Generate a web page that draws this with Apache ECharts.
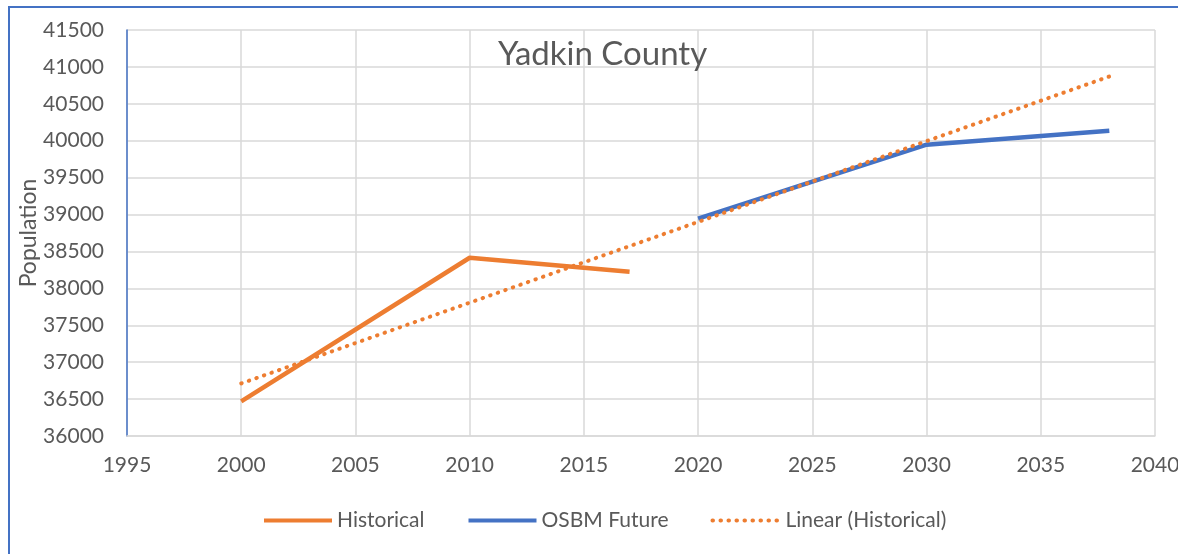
<!DOCTYPE html>
<html>
<head>
<meta charset="utf-8">
<title>Yadkin County</title>
<script src="https://cdn.jsdelivr.net/npm/echarts@6/dist/echarts.min.js"></script>
<style>
  body { margin: 0; background: #fff; }
  #main { width: 1178px; height: 554px; }
  #frame { position: absolute; left: 8px; top: 6px; width: 1200px; height: 600px;
           border-left: 2px solid #4472C4; border-top: 2px solid #4472C4; pointer-events: none; }
</style>
</head>
<body>
<div id="main"></div>
<div id="frame"></div>
<script>
// data
var historicalYears = [2000, 2010, 2017];
var historicalPop = [36470, 38415, 38226];
var futureYears = [2020, 2030, 2038];
var futurePop = [38946, 39946, 40135];
var trendYears = [2000, 2038];
var trendPop = [36712, 40870];

function pairs(xs, ys) {
  return xs.map(function (x, i) { return [x, ys[i]]; });
}

var myChart = echarts.init(document.getElementById('main'));
var font = 'Lato';
var textColor = '#595959';

var option = {
  title: {
    text: 'Yadkin County',
    left: 493,
    top: 33,
    textStyle: { fontFamily: font, fontSize: 33, fontWeight: 'normal', color: textColor }
  },
  grid: { left: 127, right: 23, top: 30, bottom: 118, outerBoundsMode: 'none' },
  legend: {
    left: 257,
    top: 505,
    itemWidth: 68,
    itemHeight: 14,
    itemGap: 42,
    itemStyle: { opacity: 0 },
    lineStyle: { width: 4 },
    textStyle: { fontFamily: font, fontSize: 21, color: textColor },
    data: ['Historical', 'OSBM Future', 'Linear (Historical)']
  },
  xAxis: {
    type: 'value',
    min: 1995,
    max: 2040,
    interval: 5,
    axisLine: { lineStyle: { color: '#d9d9d9', width: 1.5 } },
    axisTick: { show: false },
    axisLabel: { fontFamily: font, fontSize: 21, color: textColor, margin: 19,
                 formatter: function (v) { return String(v); } },
    splitLine: { show: true, lineStyle: { color: '#d9d9d9', width: 1.5 } }
  },
  yAxis: {
    type: 'value',
    min: 36000,
    max: 41500,
    interval: 500,
    name: 'Population',
    nameLocation: 'middle',
    nameGap: 87,
    nameMoveOverlap: false,
    nameTextStyle: { fontFamily: font, fontSize: 23, color: textColor },
    axisLine: { show: true, lineStyle: { color: '#4472C4', width: 1.5 } },
    axisTick: { show: false },
    axisLabel: { fontFamily: font, fontSize: 21, color: textColor, margin: 23,
                 formatter: function (v) { return String(v); } },
    splitLine: { show: true, lineStyle: { color: '#d9d9d9', width: 1.5 } }
  },
  series: [
    {
      name: 'Historical',
      type: 'line',
      data: pairs(historicalYears, historicalPop),
      symbol: 'none',
      color: '#ED7D31',
      lineStyle: { color: '#ED7D31', width: 4.5 }
    },
    {
      name: 'OSBM Future',
      type: 'line',
      data: pairs(futureYears, futurePop),
      symbol: 'none',
      color: '#4472C4',
      lineStyle: { color: '#4472C4', width: 4.5 }
    },
    {
      name: 'Linear (Historical)',
      type: 'line',
      data: pairs(trendYears, trendPop),
      symbol: 'none',
      color: '#ED7D31',
      z: 3,
      lineStyle: { color: '#ED7D31', width: 4, type: [0.5, 7.5], cap: 'round' }
    }
  ]
};

myChart.setOption(option);
</script>
</body>
</html>
